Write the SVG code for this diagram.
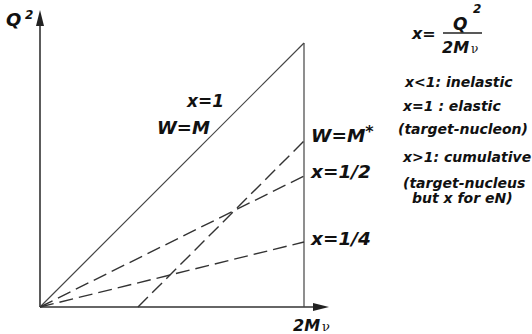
<svg xmlns="http://www.w3.org/2000/svg" width="532" height="334" viewBox="0 0 532 334">
<style>
  text { font-family: "DejaVu Sans", Verdana, sans-serif; font-weight: bold; font-style: italic; fill: #111; }
  .ax { stroke: #333; stroke-width: 1.6; fill: none; }
  .ln { stroke: #444; stroke-width: 1.2; fill: none; }
  .ds { stroke: #333; stroke-width: 1.4; fill: none; stroke-dasharray: 14 6; }
  .nu { font-family: "DejaVu Serif", serif; font-weight: normal; font-style: normal; }
</style>
<rect width="532" height="334" fill="#fff"/>
<g id="axes">
  <line class="ax" x1="40" y1="307" x2="40" y2="22"/>
  <polygon points="40,10 36,26 44,26" fill="#222"/>
  <line class="ax" x1="40" y1="307" x2="316" y2="307"/>
  <polygon points="329,307 313,303 313,311" fill="#222"/>
  <text x="6" y="26" font-size="18">Q</text>
  <text x="25" y="19" font-size="12">2</text>
  <text x="293" y="331" font-size="16">2M<tspan class="nu" font-size="13" dx="2">ν</tspan></text>
</g>
<g id="connectors">
  <line class="ln" x1="304" y1="43" x2="304" y2="307"/>
  <line class="ln" x1="40" y1="307" x2="304" y2="43"/>
  <line class="ds" x1="40" y1="307" x2="304" y2="176"/>
  <line class="ds" x1="40" y1="307" x2="304" y2="242"/>
  <line class="ds" x1="138" y1="307" x2="304" y2="141"/>
</g>
<g id="labels">
  <text x="187" y="107" font-size="17">x=1</text>
  <text x="157" y="134" font-size="18">W=M</text>
  <text x="311" y="142" font-size="18.5">W=M<tspan font-size="16" dy="-5">*</tspan></text>
  <text x="311" y="178" font-size="18.5">x=1/2</text>
  <text x="311" y="245" font-size="18.5">x=1/4</text>
</g>
<g id="formula">
  <text x="412" y="39" font-size="16">x=</text>
  <line x1="443" y1="33" x2="482" y2="33" stroke="#222" stroke-width="1.5"/>
  <text x="453" y="30" font-size="17">Q</text>
  <text x="473" y="13" font-size="12">2</text>
  <text x="442" y="53" font-size="16">2M<tspan class="nu" font-size="12" dx="2">ν</tspan></text>
</g>
<g id="legend">
  <text x="405" y="87" font-size="14">x&lt;1: inelastic</text>
  <text x="403" y="111" font-size="14">x=1 : elastic</text>
  <text x="398" y="134" font-size="14">(target-nucleon)</text>
  <text x="403" y="162" font-size="14">x&gt;1: cumulative</text>
  <text x="403" y="188" font-size="14">(target-nucleus</text>
  <text x="412" y="203" font-size="14">but x for eN)</text>
</g>
</svg>
